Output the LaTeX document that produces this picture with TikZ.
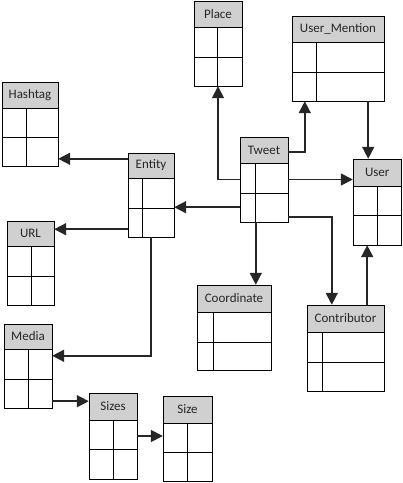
\documentclass[tikz,border=0pt]{standalone}
\usepackage{fontspec}
\setmainfont{Carlito}
\usetikzlibrary{arrows.meta}
\definecolor{headGray}{RGB}{208,208,208}

\begin{document}
\begin{tikzpicture}
[x=1pt,y=-1pt,
  boxDecorate/.style={draw,line width=0.9pt},
  headDecorate/.style={fill=headGray,draw,line width=0.9pt},
  nameDecorate/.style={font=\fontsize{13}{15}\selectfont,text=black!85,inner sep=0pt},
  lineDecorate/.style={-{Triangle[length=12pt,width=12pt]},line width=1.6pt,draw=black!85}]
\useasboundingbox (0,0) rectangle (403,483);
%% tables
\foreach \nodename/\xa/\ya/\xb/\yb/\yh/\yr/\xd/\boxtext in {
  hashtag/2/82/58/166/108/137/26/Hashtag,
  entity/128/153/174/237/178/208/142/Entity,
  place/194/1.5/242/86/27/57/217/Place,
  mention/292/16/384/101/42/72/316/User\_Mention,
  tweet/240/137/288/222/163/193/255/Tweet,
  user/353/159/401.5/245/186/215/377/User,
  coord/197/285/271/370/312/342/213/Coordinate,
  contrib/307/305/384/391/332/362/322/Contributor,
  url/7/221/54/305/246/276/31/URL,
  media/4/324/52/408/349/379/28/Media,
  sizes/89/393/137/479/420/449/113/Sizes,
  size/163/396/212/481.5/423/452/187/Size}
{
  \filldraw[headDecorate] (\xa,\ya) rectangle (\xb,\yh);
  \draw[boxDecorate] (\xa,\yh) rectangle (\xb,\yb)
    (\xa,\yr) -- (\xb,\yr) (\xd,\yh) -- (\xd,\yb);
  \node (\nodename-title) [nameDecorate] at ({(\xa+\xb)/2},{(\ya+\yh)/2}) {\boxtext};
  \node (\nodename) [inner sep=0pt,minimum width={(\xb-\xa)*1pt},
    minimum height={(\yb-\ya)*1pt}] at ({(\xa+\xb)/2},{(\ya+\yb)/2}) {};
}
%% links
\draw[lineDecorate] ([yshift=-6pt]entity.north west) -- ([yshift=-6pt]entity.north west -| hashtag.east);
\draw[lineDecorate] ([yshift=8pt]entity.south west) -- ([yshift=8pt]entity.south west -| url.east);
\draw[lineDecorate] (entity.south) |- ([yshift=-32pt]media.north east);
\draw[lineDecorate] ([yshift=7pt]media.south east) -- ([yshift=7pt]media.south east -| sizes.west);
\draw[lineDecorate] (sizes.east) -- (sizes.east -| size.west);
\draw[lineDecorate] ([yshift=15pt]tweet.south west) -- ([yshift=15pt]tweet.south west -| entity.east);
\draw[lineDecorate] (tweet.west) -| (place.south);
\draw[lineDecorate] ([yshift=-15pt]tweet.north east) -| ([xshift=13pt]mention.south west);
\draw[lineDecorate] (tweet.east) -- (tweet.east -| user.west);
\draw[lineDecorate] ([xshift=-16pt]mention.south east) -- ([xshift=-16pt]mention.south east |- user.north);
\draw[lineDecorate] ([xshift=16pt]tweet.south west) -- ([xshift=16pt]tweet.south west |- coord.north);
\draw[lineDecorate] ([yshift=5pt]tweet.south east) -| ([xshift=25pt]contrib.north west);
\draw[lineDecorate] ([xshift=-17pt]contrib.north east) -- ([xshift=-17pt]contrib.north east |- user.south);
\end{tikzpicture}
\end{document}
